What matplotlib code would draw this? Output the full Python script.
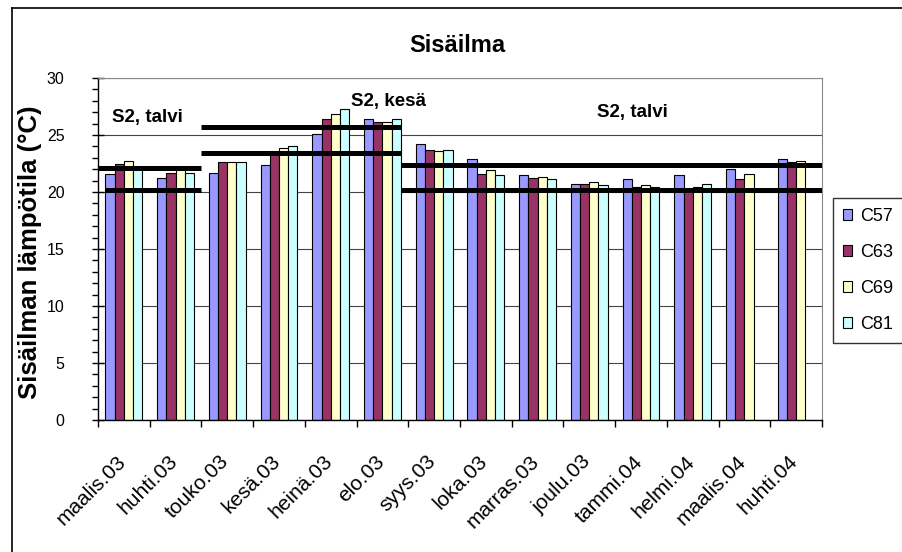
import matplotlib
matplotlib.use("Agg")
import matplotlib.pyplot as plt
import matplotlib.transforms as mtransforms
import numpy as np
from matplotlib.lines import Line2D

months = ["maalis.03", "huhti.03", "touko.03", "kesä.03", "heinä.03", "elo.03",
          "syys.03", "loka.03", "marras.03", "joulu.03", "tammi.04", "helmi.04",
          "maalis.04", "huhti.04"]

c57 = [21.6, 21.2, 21.7, 22.4, 25.1, 26.4, 24.2, 22.9, 21.5, 20.7, 21.1, 21.5, 22.0, 22.9]
c63 = [22.5, 21.7, 22.6, 23.4, 26.4, 26.1, 23.7, 21.6, 21.2, 20.7, 20.4, 20.2, 21.1, 22.6]
c69 = [22.7, 22.0, 22.6, 23.9, 26.8, 26.1, 23.6, 21.9, 21.3, 20.85, 20.6, 20.4, 21.6, 22.75]
c81 = [22.2, 21.7, 22.6, 24.0, 27.3, 26.4, 23.7, 21.5, 21.1, 20.6, 20.4, 20.7, np.nan, np.nan]

series = {"C57": c57, "C63": c63, "C69": c69, "C81": c81}
colors = ["#9999FF", "#993366", "#FFFFCC", "#CCFFFF"]

# S2 target ranges: (y, x_start, x_end) in category units
limit_lines = [
    (22.1, -0.5, 1.5), (20.2, -0.36, 1.5),      # talvi
    (25.7, 1.5, 5.36), (23.4, 1.5, 5.36),       # kesä
    (22.35, 5.36, 13.5), (20.2, 5.36, 13.5),    # talvi
]
range_labels = [("S2, talvi", -0.23, 26.5), ("S2, kesä", 4.39, 27.9), ("S2, talvi", 9.15, 27.0)]

plt.rcParams["font.family"] = ["Liberation Sans", "DejaVu Sans"]

fig = plt.figure(figsize=(9.03, 5.52), dpi=100)
ax = fig.add_axes([98 / 903, 1 - 420 / 552, 724 / 903, 342 / 552])

x = np.arange(len(months))
w = 0.178
for i, (name, vals) in enumerate(series.items()):
    ax.bar(x + (i - 1.5) * w, vals, width=w, color=colors[i], edgecolor="black",
           linewidth=0.8, label=name, zorder=2)

for y, x0, x1 in limit_lines:
    ax.plot([x0, x1], [y, y], color="black", lw=3.6, solid_capstyle="butt", zorder=3)

for txt, tx, ty in range_labels:
    ax.text(tx, ty, txt, fontweight="bold", fontsize=13.5,
            ha="left", va="center", zorder=4)

ax.set_xlim(-0.5, len(months) - 0.5)
ax.set_ylim(0, 30)
ax.set_yticks(np.arange(0, 31, 5))
ax.set_yticks(np.arange(0, 31, 1), minor=True)
ax.yaxis.grid(True, color="#444444", lw=0.8, zorder=0)
ax.set_axisbelow(True)

ax.set_xticks(x)
ax.set_xticks(np.arange(-0.5, len(months), 1), minor=True)
ax.set_xticklabels(months, rotation=45, ha="right", va="top", rotation_mode="anchor",
                   fontsize=15)
ax.tick_params(axis="x", which="major", length=0, pad=23)
ax.tick_params(axis="x", which="minor", length=5, width=1)
ax.tick_params(axis="y", which="major", direction="inout", length=8, width=1,
               labelsize=11.5, pad=20)
ax.tick_params(axis="y", which="minor", length=4, width=1)

# nudge rotated month labels so they end under the category centre
shift = mtransforms.ScaledTranslation(-0.08, 0, fig.dpi_scale_trans)
for lbl in ax.get_xticklabels():
    lbl.set_transform(lbl.get_transform() + shift)

for side in ["top", "right"]:
    ax.spines[side].set_color("#888888")
for side in ["left", "bottom"]:
    ax.spines[side].set_color("black")
    ax.spines[side].set_linewidth(1)

fig.text(457 / 903, 1 - 45 / 552, "Sisäilma", fontweight="bold",
         fontsize=17, ha="center", va="center")
fig.text(30 / 903, 1 - 252 / 552, "Sisäilman lämpötila (°C)", fontweight="bold",
         fontsize=18.5, rotation=90, ha="center", va="center")

leg = fig.legend(loc="upper left", bbox_to_anchor=(833 / 903, 1 - 198 / 552),
                 fontsize=13, frameon=True, fancybox=False, edgecolor="black",
                 handlelength=0.5, handleheight=0.5, handletextpad=0.45,
                 labelspacing=1.05, borderpad=0.55, borderaxespad=0)
leg.get_frame().set_linewidth(1)

# outer chart frame (only top and left edges fall inside the image)
fig.add_artist(Line2D([12 / 903, 12 / 903], [0, 1 - 8 / 552], color="black", lw=1.2,
                      transform=fig.transFigure))
fig.add_artist(Line2D([12 / 903, 1], [1 - 8 / 552, 1 - 8 / 552], color="black", lw=1.2,
                      transform=fig.transFigure))

fig.savefig("out.png", dpi=100)
